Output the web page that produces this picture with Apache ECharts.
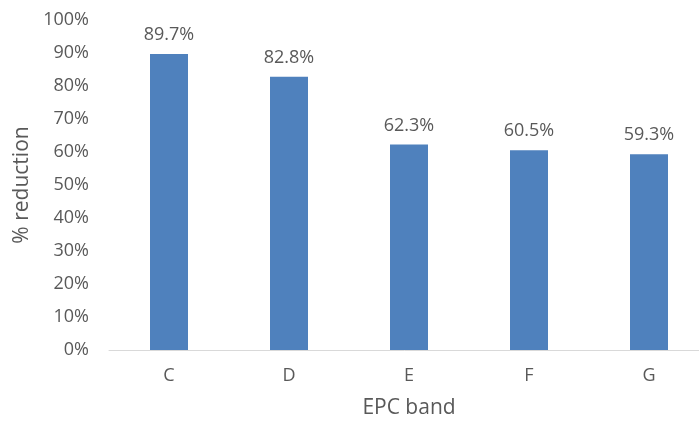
<!DOCTYPE html>
<html>
<head>
<meta charset="utf-8">
<script src="https://cdn.jsdelivr.net/npm/echarts@6/dist/echarts.min.js"></script>
<style>
  html, body { margin: 0; padding: 0; background: #fff; }
  #chart { width: 699px; height: 421px; }
</style>
</head>
<body>
<div id="chart"></div>
<script>
// EPC bands and the percentage reduction for each
const bands = ['C', 'D', 'E', 'F', 'G'];
const reduction = [89.7, 82.8, 62.3, 60.5, 59.3];
const yTicks = [0, 10, 20, 30, 40, 50, 60, 70, 80, 90, 100];

const textColor = '#595959';
const fontFamily = '"Open Sans", "Noto Sans", sans-serif';

const chart = echarts.init(document.getElementById('chart'), null, { renderer: 'canvas' });
chart.setOption({
  animation: false,
  // plot area runs slightly past the right edge of the canvas
  grid: {
    left: 109, width: 600, top: 20, bottom: 71,
    containLabel: false, outerBoundsMode: 'none'
  },
  xAxis: {
    type: 'category',
    data: bands,
    name: 'EPC band',
    nameLocation: 'middle',
    nameGap: 48,
    nameTextStyle: { color: textColor, fontSize: 21, fontFamily: fontFamily },
    axisLine: { lineStyle: { color: '#d9d9d9', width: 1 } },
    axisTick: { show: false },
    axisLabel: { color: textColor, fontSize: 18, fontFamily: fontFamily, margin: 17 }
  },
  yAxis: {
    type: 'value',
    min: yTicks[0],
    max: yTicks[yTicks.length - 1],
    interval: 10,
    name: '% reduction',
    nameLocation: 'middle',
    nameGap: 73,
    nameTextStyle: { color: textColor, fontSize: 21, fontFamily: fontFamily },
    axisLine: { show: false },
    axisTick: { show: false },
    splitLine: { show: false },
    axisLabel: {
      color: textColor, fontSize: 18, fontFamily: fontFamily, margin: 20,
      formatter: v => v + '%'
    }
  },
  series: [{
    type: 'bar',
    data: reduction,
    barWidth: 38,
    itemStyle: { color: '#4f81bd' },
    label: {
      show: true,
      position: 'top',
      distance: 10,
      color: textColor,
      fontSize: 18,
      fontFamily: fontFamily,
      formatter: p => p.value.toFixed(1) + '%'
    }
  }]
});
</script>
</body>
</html>
